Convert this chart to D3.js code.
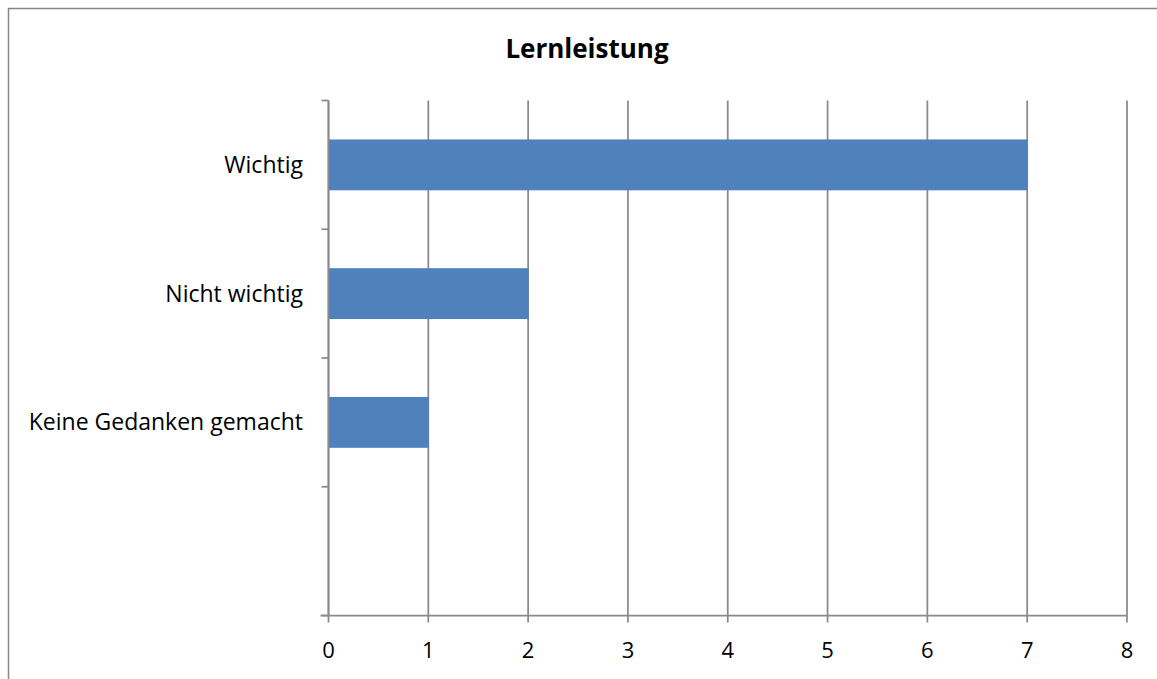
<!DOCTYPE html>
<html>
<head>
<meta charset="utf-8">
<script src="https://cdn.jsdelivr.net/npm/d3@7"></script>
<style>
  html, body { margin: 0; padding: 0; background: #fff; }
  svg { display: block; }
  text { font-family: "Open Sans", "Noto Sans", sans-serif; fill: #000; }
</style>
</head>
<body>
<script>
// Survey answers and counts
const categories = ["Wichtig", "Nicht wichtig", "Keine Gedanken gemacht", ""];
const counts = [7, 2, 1, null];
const xTicks = [0, 1, 2, 3, 4, 5, 6, 7, 8];
const title = "Lernleistung";

const W = 1157, H = 679;
const plot = { left: 328.5, right: 1127, top: 100.5, bottom: 615.5 };

const svg = d3.select("body").append("svg")
  .attr("width", W).attr("height", H);

// chart frame (extends past the visible window on right and bottom)
svg.append("rect")
  .attr("x", 8.5).attr("y", 8.5)
  .attr("width", W + 20).attr("height", H + 20)
  .attr("fill", "#fff").attr("stroke", "#868686").attr("stroke-width", 1.5);

const x = d3.scaleLinear().domain([0, 8]).range([plot.left, plot.right]);
const y = d3.scaleBand().domain(categories.map((c, i) => i))
  .range([plot.top, plot.bottom]).paddingInner(0.605).paddingOuter(0.3025);
const yEdges = d3.scaleLinear().domain([0, categories.length]).range([plot.top, plot.bottom]);

const gridColor = "#8a8a8a";

// vertical gridlines, extending below the axis as tick marks
svg.append("g").selectAll("line").data(xTicks).join("line")
  .attr("x1", d => x(d)).attr("x2", d => x(d))
  .attr("y1", plot.top).attr("y2", plot.bottom + 7)
  .attr("stroke", gridColor).attr("stroke-width", 1.75);

// bars
svg.append("g").selectAll("rect").data(counts.map((v, i) => ({ v, i })).filter(d => d.v != null))
  .join("rect")
  .attr("x", x(0) + 0.5)
  .attr("y", d => y(d.i))
  .attr("width", d => x(d.v) - x(0))
  .attr("height", y.bandwidth())
  .attr("fill", "#4f81bd");

// vertical axis line with category boundary ticks
svg.append("line")
  .attr("x1", plot.left).attr("x2", plot.left)
  .attr("y1", plot.top).attr("y2", plot.bottom)
  .attr("stroke", gridColor).attr("stroke-width", 1.75);
svg.append("g").selectAll("line").data(d3.range(categories.length + 1)).join("line")
  .attr("x1", plot.left - 7).attr("x2", plot.left)
  .attr("y1", d => yEdges(d)).attr("y2", d => yEdges(d))
  .attr("stroke", gridColor).attr("stroke-width", 1.75);

// horizontal axis line
svg.append("line")
  .attr("x1", plot.left - 8).attr("x2", plot.right)
  .attr("y1", plot.bottom).attr("y2", plot.bottom)
  .attr("stroke", gridColor).attr("stroke-width", 1.75);

// x tick labels
svg.append("g").selectAll("text").data(xTicks).join("text")
  .attr("x", d => x(d)).attr("y", 658)
  .attr("text-anchor", "middle")
  .attr("font-size", 22)
  .text(d => d);

// category labels
svg.append("g").selectAll("text").data(categories.map((c, i) => ({ c, i })).filter(d => d.c))
  .join("text")
  .attr("x", 303).attr("y", d => y(d.i) + y.bandwidth() / 2 + 8)
  .attr("text-anchor", "end")
  .attr("font-size", 23)
  .text(d => d.c);

// title
svg.append("text")
  .attr("x", 587).attr("y", 58)
  .attr("text-anchor", "middle")
  .attr("font-size", 26).attr("font-weight", "bold")
  .text(title);
</script>
</body>
</html>
